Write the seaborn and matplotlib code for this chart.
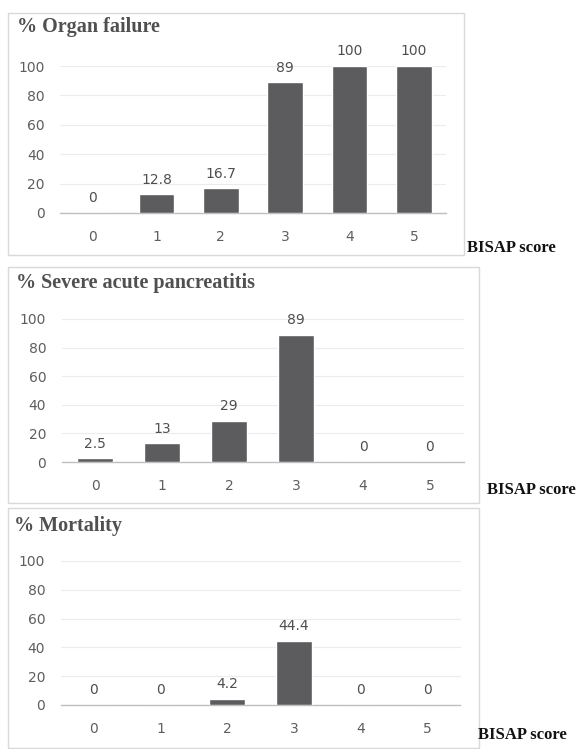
import matplotlib
matplotlib.use("Agg")
import matplotlib.pyplot as plt
from matplotlib.patches import Rectangle
import seaborn as sns
import pandas as pd

scores = ["0", "1", "2", "3", "4", "5"]
organ_failure = [0, 12.8, 16.7, 89, 100, 100]
severe_ap = [2.5, 13, 29, 89, 0, 0]
mortality = [0, 0, 4.2, 44.4, 0, 0]
organ_labels = ["0", "12.8", "16.7", "89", "100", "100"]
severe_labels = ["2.5", "13", "29", "89", "0", "0"]
mort_labels = ["0", "0", "4.2", "44.4", "0", "0"]
titles = ["% Organ failure", "% Severe acute pancreatitis", "% Mortality"]
yticks = [0, 20, 40, 60, 80, 100]
xlabel = "BISAP score"

sns.set_theme(style="white")
plt.rcParams['font.family'] = ['DejaVu Sans']

W, H = 576, 749
fig = plt.figure(figsize=(W / 100, H / 100), dpi=100)
fig.patch.set_facecolor("white")

def fx(px):
    return px / W

def fy(py):
    return (H - py) / H

# pixel geometry: box (x0, y0, x1, y1), axes (left, right, top(y=100), bottom(y=0)),
# title (x, y), x-label (x, y, ha)
panels = [
    dict(box=(8, 13, 464, 255), ax=(60, 446, 66, 213), title=(17, 27), lab=(467, 248, "left"),
         vals=organ_failure, labs=organ_labels, name=titles[0]),
    dict(box=(8, 267, 479, 503), ax=(61.5, 463.5, 319, 462), title=(16, 283), lab=(576, 490, "right"),
         vals=severe_ap, labs=severe_labels, name=titles[1]),
    dict(box=(8, 508, 479, 748), ax=(60.5, 460.5, 561, 705), title=(14, 526), lab=(478, 735, "left"),
         vals=mortality, labs=mort_labels, name=titles[2]),
]

bar_color = "#5c5c5e"
for p in panels:
    bx0, by0, bx1, by1 = p["box"]
    fig.patches.append(Rectangle((fx(bx0), fy(by1)), fx(bx1) - fx(bx0), fy(by0) - fy(by1),
                                 transform=fig.transFigure, facecolor="none",
                                 edgecolor="#d9d9d9", linewidth=1.0, zorder=0))
    l, r, t, b = p["ax"]
    ax = fig.add_axes([fx(l), fy(b), fx(r) - fx(l), fy(t) - fy(b)])
    df = pd.DataFrame({"score": scores, "value": p["vals"]})
    sns.barplot(data=df, x="score", y="value", color=bar_color, width=0.55,
                saturation=1, ax=ax, zorder=3)
    ax.set_xlim(-0.5, 5.5)
    ax.set_ylim(0, 100)
    ax.set_yticks(yticks)
    ax.set_xlabel("")
    ax.set_ylabel("")
    ax.grid(axis="y", color="#ececec", linewidth=0.8, zorder=0)
    ax.set_axisbelow(True)
    for s in ["top", "right", "left"]:
        ax.spines[s].set_visible(False)
    ax.spines["bottom"].set_color("#bfbfbf")
    ax.spines["bottom"].set_linewidth(1.0)
    ax.tick_params(axis="both", length=0, labelsize=10, colors="#5e5e5e")
    ax.tick_params(axis="x", pad=12)
    ax.tick_params(axis="y", pad=11)
    for i, (v, s) in enumerate(zip(p["vals"], p["labs"])):
        ax.annotate(s, (i, v), xytext=(0, 10.5), textcoords="offset points",
                    ha="center", va="center", fontsize=10, color="#4f4f4f",
                    annotation_clip=False)
    tx, ty = p["title"]
    fig.text(fx(tx), fy(ty), p["name"], ha="left", va="center",
             fontsize=14.5, fontweight="bold", color="#505050",
             family=["Liberation Serif", "DejaVu Serif"])
    lx, ly, lha = p["lab"]
    fig.text(fx(lx), fy(ly), xlabel, ha=lha, va="center", fontsize=12,
             fontweight="bold", color="#111111",
             family=["Liberation Serif", "DejaVu Serif"])

fig.savefig("out.png", dpi=100, facecolor="white")
